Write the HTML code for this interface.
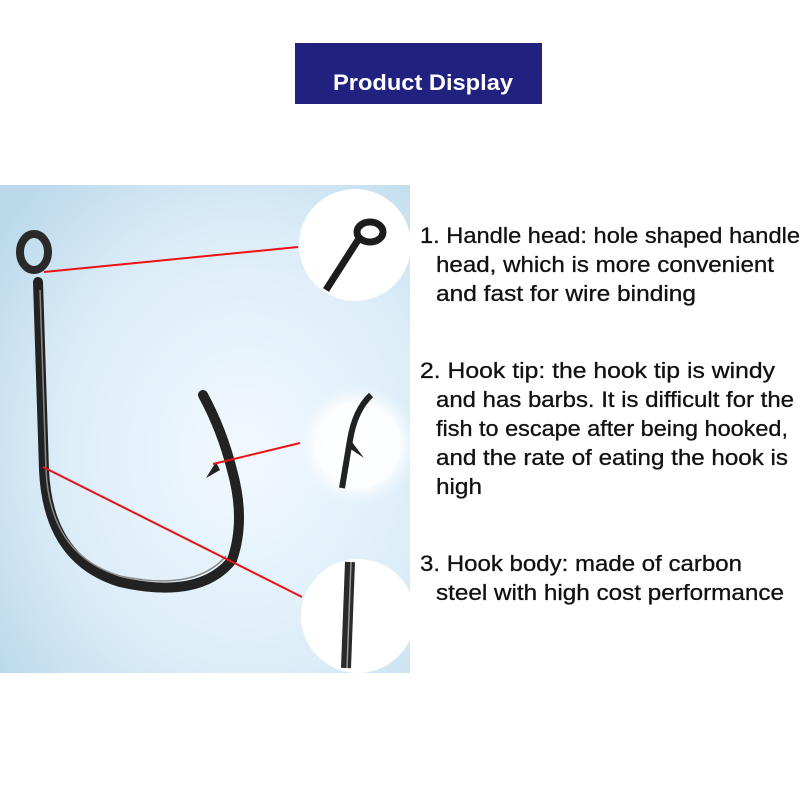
<!DOCTYPE html>
<html><head><meta charset="utf-8"><style>
html,body{margin:0;padding:0;background:#fff;width:800px;height:800px;overflow:hidden}
</style></head><body>
<svg width="800" height="800" viewBox="0 0 800 800" xmlns="http://www.w3.org/2000/svg">
<defs>
<radialGradient id="bg" cx="0.6" cy="0.55" r="0.75">
<stop offset="0" stop-color="#f2f9fe"/>
<stop offset="0.6" stop-color="#dcedf8"/>
<stop offset="1" stop-color="#bcd9ec"/>
</radialGradient>
<radialGradient id="c2" cx="0.5" cy="0.5" r="0.5">
<stop offset="0" stop-color="#ffffff"/>
<stop offset="0.7" stop-color="#fbfdff"/>
<stop offset="1" stop-color="#f0f7fc" stop-opacity="0"/>
</radialGradient>
</defs>
<rect x="0" y="0" width="800" height="800" fill="#fff"/>
<rect x="295" y="43" width="247" height="61" fill="#21217f"/>
<text x="423" y="90" text-anchor="middle" font-family="Liberation Sans, sans-serif" font-weight="bold" font-size="22" fill="#fff" textLength="180" lengthAdjust="spacingAndGlyphs">Product Display</text>

<rect x="0" y="185" width="410" height="488" fill="url(#bg)"/>
<circle cx="355" cy="245" r="56" fill="#fff"/>
<circle cx="358" cy="445" r="60" fill="url(#c2)"/>
<circle cx="358" cy="616" r="57" fill="#fff"/>

<!-- hook -->
<ellipse cx="34" cy="252" rx="14" ry="18" fill="none" stroke="#2a2a2a" stroke-width="8"/>
<path d="M38 282 L44 470 Q48 560 120 582 Q200 600 232 560 Q246 520 232 470 Q222 430 203 395" fill="none" stroke="#222" stroke-width="10" stroke-linecap="round"/>
<path d="M40 290 L46 470 Q50 555 120 576 Q195 592 226 556" fill="none" stroke="#888" stroke-width="1.5"/>
<path d="M216 462 L206 478 L220 470 Z" fill="#222"/>

<!-- zoomed details -->
<ellipse cx="370" cy="232" rx="13" ry="10" fill="none" stroke="#1c1c1c" stroke-width="7"/>
<path d="M358 240 L326 290" stroke="#1c1c1c" stroke-width="7"/>
<path d="M371 395 Q355 410 350 440 L342 488" fill="none" stroke="#222" stroke-width="6"/>
<path d="M349 448 L364 458 L352 442 Z" fill="#222"/>
<path d="M350 562 L346 668" stroke="#2a2a2a" stroke-width="10"/>
<path d="M351 562 L347 668" stroke="#999" stroke-width="1.5"/>

<g stroke="#ee1111" stroke-width="2">
<line x1="44" y1="272" x2="298" y2="247"/>
<line x1="213" y1="464" x2="300" y2="443"/>
<line x1="43" y1="467" x2="302" y2="597"/>
</g>

<g font-family="Liberation Sans, sans-serif" font-size="22" fill="#111" stroke="#111" stroke-width="0.3">
<text x="420" y="243" textLength="380" lengthAdjust="spacingAndGlyphs">1. Handle head: hole shaped handle</text>
<text x="436" y="272" textLength="338" lengthAdjust="spacingAndGlyphs">head, which is more convenient</text>
<text x="436" y="301" textLength="260" lengthAdjust="spacingAndGlyphs">and fast for wire binding</text>
<text x="420" y="378" textLength="355" lengthAdjust="spacingAndGlyphs">2. Hook tip: the hook tip is windy</text>
<text x="436" y="407" textLength="358" lengthAdjust="spacingAndGlyphs">and has barbs. It is difficult for the</text>
<text x="436" y="436" textLength="352" lengthAdjust="spacingAndGlyphs">fish to escape after being hooked,</text>
<text x="436" y="465" textLength="352" lengthAdjust="spacingAndGlyphs">and the rate of eating the hook is</text>
<text x="436" y="494" textLength="46" lengthAdjust="spacingAndGlyphs">high</text>
<text x="420" y="571" textLength="322" lengthAdjust="spacingAndGlyphs">3. Hook body: made of carbon</text>
<text x="436" y="600" textLength="348" lengthAdjust="spacingAndGlyphs">steel with high cost performance</text>
</g>
</svg>
</body></html>
